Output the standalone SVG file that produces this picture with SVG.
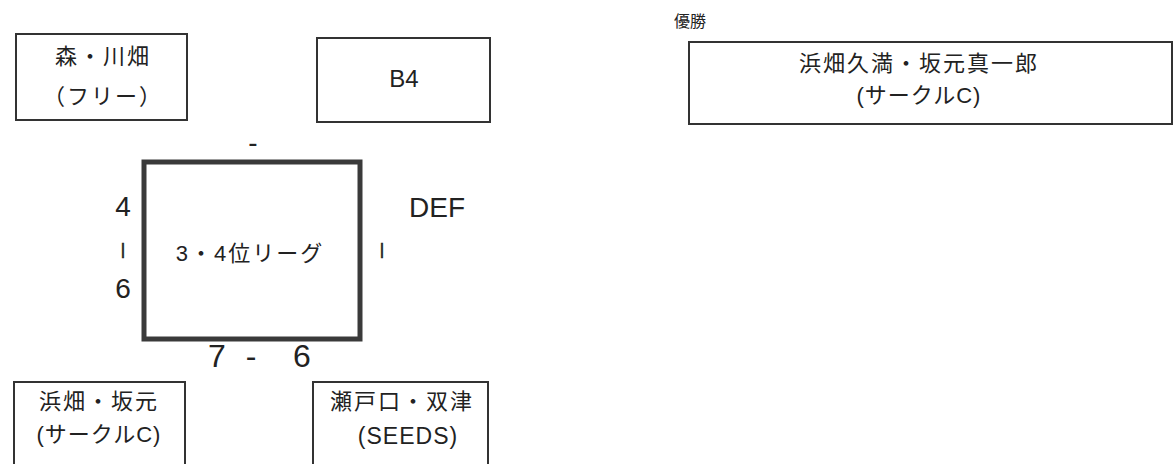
<svg xmlns="http://www.w3.org/2000/svg" width="1173" height="464" viewBox="0 0 1173 464">
<style>
.box{fill:#fff;stroke:#333;stroke-width:2}
.big{fill:#fff;stroke:#3a3a3a;stroke-width:5}
text{font-family:"Liberation Sans","Noto Sans CJK JP",sans-serif;fill:#222;text-anchor:middle}
.t{font-size:22px;letter-spacing:2px}
.p{font-size:22px;letter-spacing:1px}
.s{font-size:16px;text-anchor:start}
.n{font-size:28px}
.m{font-size:32px}
.bar{font-size:17px;stroke:#222;stroke-width:0.6}
</style>
<rect width="1173" height="464" fill="#fff"/>
<g id="node-mori">
<rect class="box" x="16" y="34" width="171" height="86"/>
<text class="t" x="103" y="64">森・川畑</text>
<text class="t" x="103" y="104">（フリー）</text>
</g>
<g id="node-b4">
<rect class="box" x="317" y="38" width="173" height="84"/>
<text class="n" x="404" y="87" style="font-size:24px">B4</text>
</g>
<g id="node-winner">
<text class="s" x="674" y="27">優勝</text>
<rect class="box" x="689" y="42" width="483" height="82"/>
<text class="t" x="919" y="71">浜畑久満・坂元真一郎</text>
<text class="p" x="919" y="103">(サークルC)</text>
</g>
<g id="node-league">
<rect class="big" x="144" y="162" width="216" height="177"/>
<text class="t" x="250" y="261">3・4位リーグ</text>
</g>
<g id="node-hamabata">
<rect class="box" x="14" y="382" width="171" height="90"/>
<text class="t" x="99" y="409">浜畑・坂元</text>
<text class="p" x="99" y="442">(サークルC)</text>
</g>
<g id="node-setoguchi">
<rect class="box" x="313" y="382" width="175" height="90"/>
<text class="t" x="402" y="409">瀬戸口・双津</text>
<text class="t" x="408" y="444" style="font-size:23px;letter-spacing:1px">(SEEDS)</text>
</g>
<g id="connectors">
<text class="n" x="253" y="152">-</text>
<text class="n" x="123" y="216">4</text>
<text class="bar" x="123" y="255">|</text>
<text class="n" x="123" y="298">6</text>
<text class="n" x="437" y="217">DEF</text>
<text class="bar" x="382" y="255">|</text>
<text class="m" x="217" y="367">7</text>
<text class="m" x="251" y="367">-</text>
<text class="m" x="302" y="367">6</text>
</g>
</svg>
